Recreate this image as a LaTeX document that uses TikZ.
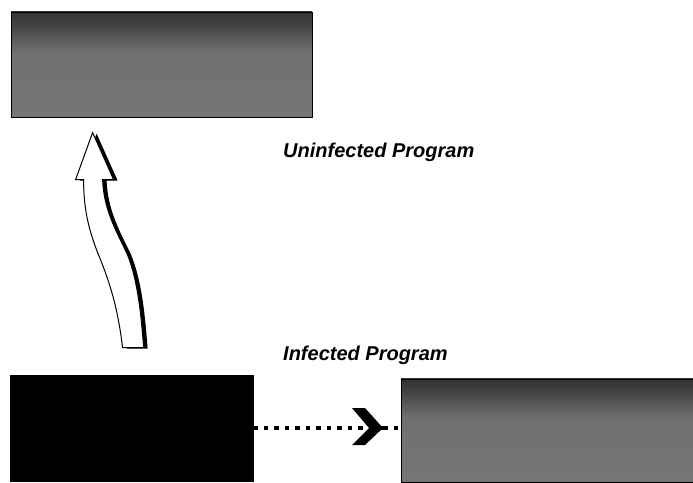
\documentclass[tikz,border=0pt]{standalone}
\usepackage{fontspec}
\setmainfont{Liberation Sans}
\usetikzlibrary{arrows.meta, positioning}

% grey of the program files, darker along the top
\pgfdeclareverticalshading{stipplefill}{100bp}{color(0bp)=(black!54); color(25bp)=(black!54);
    color(56bp)=(black!56); color(69bp)=(black!74); color(75bp)=(black!80); color(100bp)=(black!80)}

% outline of the hollow lift arrow, relative to its tail
\newcommand{\liftpath}{(0,0) .. controls (-5,41) and (-13,66) .. (-25,95)
    .. controls (-35,121) and (-39,141) .. (-39,168) -- (-47,168) -- (-30,215)
    -- (-9,168) -- (-20,168) .. controls (-19,141) and (-9,121) .. (4,95)
    .. controls (14,71) and (18,41) .. (21,0) -- cycle}

\begin{document}
\begin{tikzpicture}[x=1pt, y=1pt,
            filebox/.style={rectangle, draw=black, line width=0.8pt, inner sep=0pt},
            stipple/.style={filebox, shading=stipplefill, shading angle=0},
            caption/.style={font=\fontsize{20}{24}\selectfont\bfseries\itshape, anchor=west, inner sep=0pt},
            dots/.style={line width=4.5pt, dash pattern=on 4.5pt off 6pt}
        ]
            \useasboundingbox (0,0) rectangle (693,482);

            % program files
            \node[stipple, minimum width=301pt, minimum height=105pt] (clean) at (161.5,417.5) {};
            \node[filebox, fill=black, minimum width=243pt, minimum height=106pt] (infected) at (131.5,54) {};
            \node[stipple, minimum width=292pt, minimum height=103pt] (copy) at (547,51.5) {};

            % captions
            \node[caption] (uninf) at (283,330) {Uninfected Program};
            \node[caption] (inf) at (283,127) {Infected Program};

            % hollow arrow from infected up to clean
            \coordinate (tail) at ([xshift=113pt, yshift=27pt]infected.north west);
            \begin{scope}[shift={(tail)}]
                \fill[black, shift={(4,-1)}] \liftpath;
                \filldraw[fill=white, draw=black, line width=1pt] \liftpath;
            \end{scope}

            % dotted spread to the copy, chevron head at hit
            \coordinate (hit) at (383,54);
            \draw[dots] (infected.east) -- (hit);
            \draw[dots] (hit) -- (copy.west |- hit);
            \fill[shift={(hit)}] (0,0) -- (-18,20) -- (-31,20) -- (-14,0)
                -- (-31,-17) -- (-18,-17) -- cycle;
        \end{tikzpicture}
\end{document}
